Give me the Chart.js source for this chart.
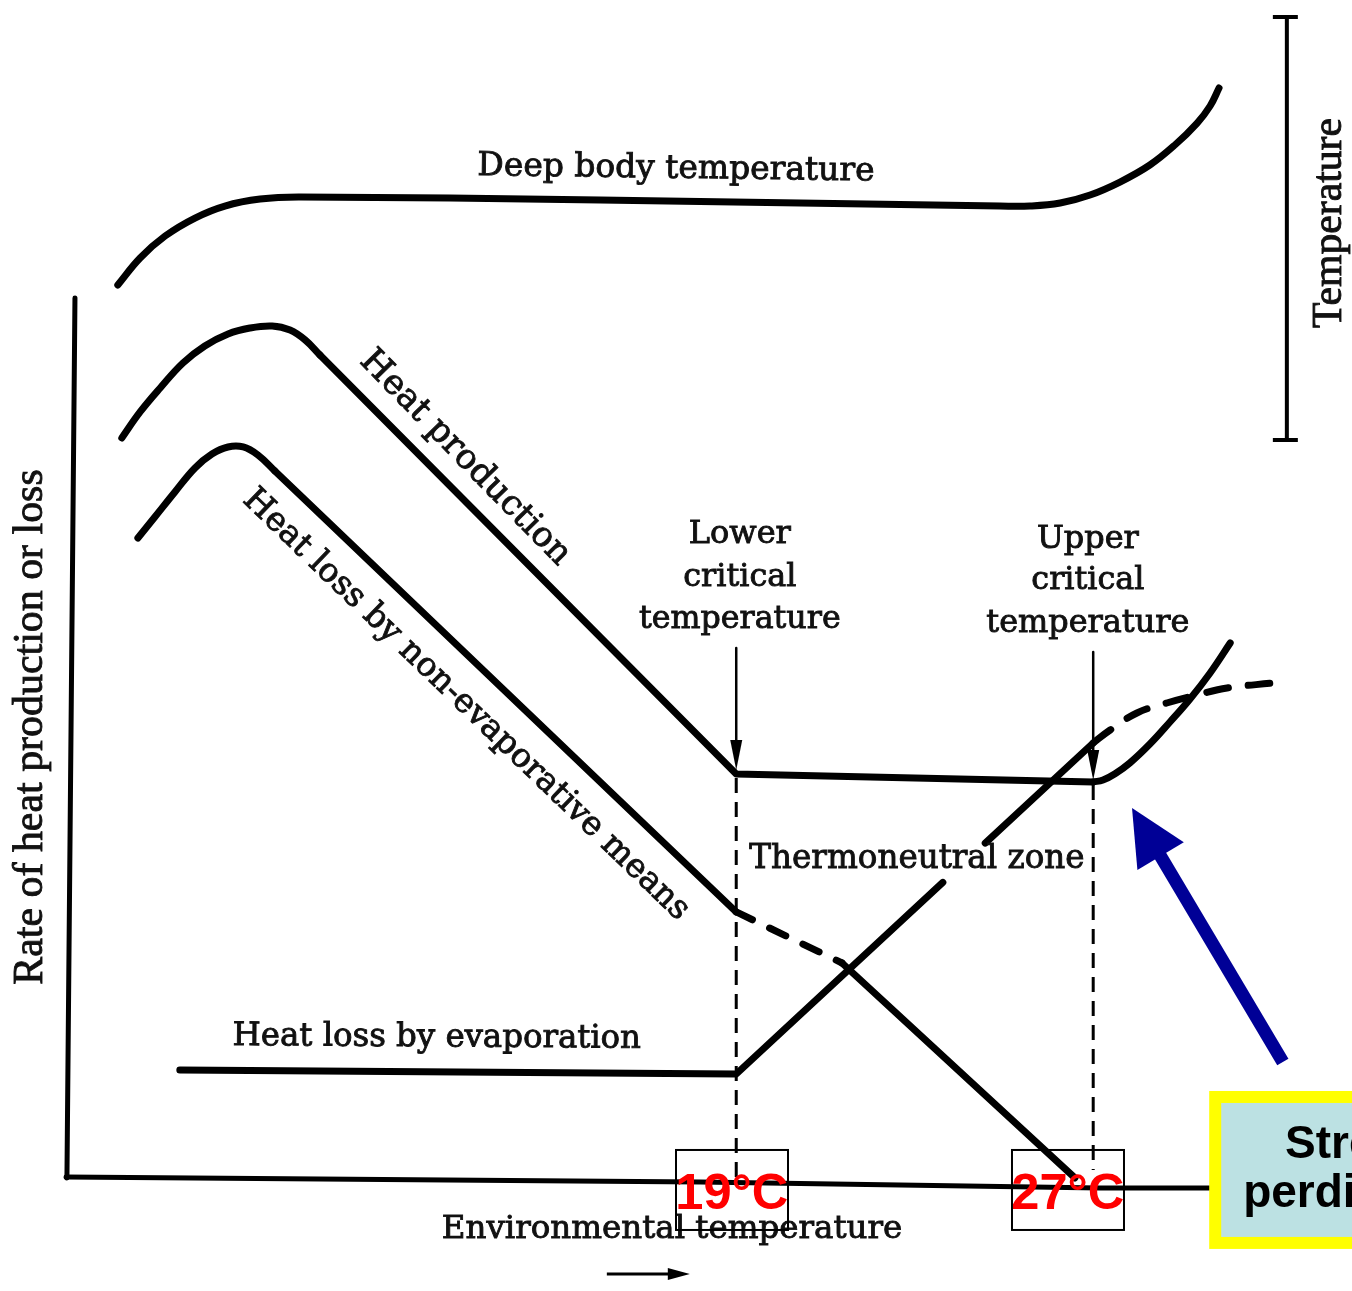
<!DOCTYPE html>
<html>
<head>
<meta charset="utf-8">
<script src="https://cdn.jsdelivr.net/npm/chart.js@4.4.1/dist/chart.umd.min.js"></script>
<style>
  html, body { margin: 0; padding: 0; background: #fff; }
  #wrap { width: 1352px; height: 1291px; position: relative; }
</style>
</head>
<body>
<div id="wrap"><canvas id="chart"></canvas></div>
<script>
// ===== DATA (x = environmental temperature °C, y = rate, arbitrary units) =====
// deep body temperature
const deepT = [5.14, 5.64, 6.20, 6.87, 7.54, 8.33, 9.22, 15.95, 20.43, 24.91, 25.58, 26.26, 26.93, 27.60, 28.27, 28.83, 29.33, 29.62, 29.82];
const deepR = [101.48, 104.54, 107.03, 109.07, 110.43, 111.22, 111.45, 111.11, 110.77, 110.43, 110.43, 110.77, 111.68, 113.15, 115.08, 117.35, 119.84, 121.77, 123.81];

// heat production: cold hump, straight part + flat, hot rise
const prodHumpT = [5.23, 5.64, 6.09, 6.60, 7.09, 7.61, 8.10, 8.60, 9.00, 9.34, 9.67];
const prodHumpR = [84.13, 87.08, 89.80, 92.63, 94.56, 95.92, 96.60, 96.83, 96.37, 95.24, 93.54];
const prodLineT = [9.67, 19.0, 27.0];
const prodLineR = [93.54, 46.03, 45.13];
const prodHotT = [27.0, 27.22, 27.49, 27.82, 28.27, 28.72, 29.17, 29.62, 30.07];
const prodHotR = [45.13, 45.35, 46.06, 47.28, 49.43, 51.93, 54.54, 57.49, 60.88];

// heat loss by non-evaporative means
const nonEvHumpT = [5.59, 5.97, 6.42, 6.87, 7.25, 7.61, 7.95, 8.28, 8.66];
const nonEvHumpR = [72.79, 75.17, 78.01, 80.73, 82.31, 83.11, 83.11, 82.20, 80.39];
const nonEvLineT = [8.66, 19.0];
const nonEvLineR = [80.39, 30.39];
const nonEvDashT = [19.0, 21.37];
const nonEvDashR = [30.39, 24.60];
const nonEvLowT = [21.37, 26.59];
const nonEvLowR = [24.60, 0.23];

// heat loss by evaporation (null = gap behind the label)
const evapT = [6.53, 19.0, 23.63, 24.1, 24.58, 27.0];
const evapR = [12.47, 12.02, 33.74, null, 38.19, 49.55];
const evapDashT = [27.0, 27.38, 27.98, 28.65, 29.33, 30.0, 31.03];
const evapDashR = [49.55, 51.02, 52.95, 54.08, 54.99, 55.78, 56.35];

// axes of the drawing
const axisLeftT = [4.18, 4.0];
const axisLeftR = [100, 0.23];
const axisBottomT = [3.98, 18.19, 27.15, 29.62];
const axisBottomR = [0.34, -0.23, -0.91, -0.91];

// critical temperatures
const lowerCrit = 19;
const upperCrit = 27;
const lowerDashR = [45.58, -0.5];
const upperDashR = [44.78, 1.13];
const lowerArrowR = [60.32, 46.49];
const upperArrowR = [59.86, 45.35];

// temperature scale bar (right)
const tempBarT = 31.34;
const tempBarR = [131.86, 83.90];

// ===== helpers =====
function pts(ts, rs) {
  return ts.map((t, i) => ({ x: t, y: rs[i] }));
}
function line(ts, rs, extra) {
  return Object.assign({
    data: pts(ts, rs),
    showLine: true,
    pointRadius: 0,
    borderColor: "#000",
    borderWidth: 7,
    borderCapStyle: "round",
    borderJoinStyle: "round",
    fill: false,
    spanGaps: false
  }, extra || {});
}
const smooth = { tension: 0.4 };

// ===== overlay: texts, arrows, boxes =====
const texts = [
  { s: "Deep body temperature", t: 17.65, r: 114.6, w: 397, rot: 0.8 },
  { s: "Heat production", t: 12.92, r: 81.86, w: 286, rot: 45.7 },
  { s: "Heat loss by non-evaporative means", t: 12.94, r: 53.86, w: 606, rot: 43.9 },
  { s: "Lower", t: 19.08, r: 73.13, w: 102 },
  { s: "critical", t: 19.08, r: 68.25, w: 113 },
  { s: "temperature", t: 19.08, r: 63.49, w: 202 },
  { s: "Upper", t: 26.88, r: 72.56, w: 102 },
  { s: "critical", t: 26.88, r: 67.91, w: 113 },
  { s: "temperature", t: 26.88, r: 63.04, w: 203 },
  { s: "Thermoneutral zone", t: 23.05, r: 36.28, w: 335 },
  { s: "Heat loss by evaporation", t: 12.29, r: 16.10, w: 409, rot: 0.4 },
  { s: "Environmental temperature", t: 17.56, r: -5.67, w: 460 },
  { s: "Rate of heat production or loss", t: 3.19, r: 51.36, w: 515, rot: -90, fam: "Liberation Serif" },
  { s: "Temperature", t: 32.31, r: 108.5, w: 210, rot: -90, fam: "Liberation Serif" }
];

function arrowHead(ctx, x0, y0, x1, y1, len, half) {
  const a = Math.atan2(y1 - y0, x1 - x0);
  const bx = x1 - len * Math.cos(a), by = y1 - len * Math.sin(a);
  ctx.beginPath();
  ctx.moveTo(x1, y1);
  ctx.lineTo(bx + half * Math.sin(a), by - half * Math.cos(a));
  ctx.lineTo(bx - half * Math.sin(a), by + half * Math.cos(a));
  ctx.closePath();
  ctx.fill();
}

const overlay = {
  id: "overlay",
  afterDatasetsDraw(chart) {
    const { ctx, scales: { x, y } } = chart;
    const px = v => x.getPixelForValue(v);
    const py = v => y.getPixelForValue(v);
    ctx.save();

    // critical temperature arrows
    ctx.fillStyle = "#000";
    [[lowerCrit, lowerArrowR], [upperCrit, upperArrowR]].forEach(([t, rr]) => {
      arrowHead(ctx, px(t), py(rr[0]), px(t), py(rr[1]), 30, 6);
    });

    // temperature bar caps
    ctx.strokeStyle = "#000";
    ctx.lineWidth = 4;
    tempBarR.forEach(r => {
      ctx.beginPath();
      ctx.moveTo(px(tempBarT) - 14, py(r));
      ctx.lineTo(px(tempBarT) + 11, py(r));
      ctx.stroke();
    });

    // small arrow under x label
    ctx.lineWidth = 3;
    ctx.beginPath();
    ctx.moveTo(px(16.10), py(-10.66));
    ctx.lineTo(px(17.6), py(-10.66));
    ctx.stroke();
    arrowHead(ctx, px(16.10), py(-10.66), px(17.96), py(-10.66), 22, 6);

    // texts (a thin stroke thickens them like the printed original)
    ctx.fillStyle = "#111";
    ctx.strokeStyle = "#111";
    ctx.lineWidth = 0.9;
    ctx.textAlign = "center";
    ctx.textBaseline = "middle";
    texts.forEach(o => {
      const fam = o.fam || "DejaVu Serif";
      ctx.font = "100px '" + fam + "'";
      const size = 100 * o.w / ctx.measureText(o.s).width;
      ctx.font = size.toFixed(1) + "px '" + fam + "'";
      ctx.save();
      ctx.translate(px(o.t), py(o.r));
      ctx.rotate((o.rot || 0) * Math.PI / 180);
      ctx.fillText(o.s, 0, 0);
      ctx.strokeText(o.s, 0, 0);
      ctx.restore();
    });

    // red temperature boxes
    [["19°C", 17.65, 20.16, 18.90], ["27°C", 25.18, 27.69, 26.43]].forEach(([s, l, rgt, c]) => {
      ctx.strokeStyle = "#000";
      ctx.lineWidth = 2;
      ctx.strokeRect(px(l), py(3.40), px(rgt) - px(l), py(-5.67) - py(3.40));
      ctx.fillStyle = "#ff0000";
      ctx.font = "bold 100px 'Liberation Sans'";
      const size = 100 * 113 / ctx.measureText(s).width;
      ctx.font = "bold " + size.toFixed(1) + "px 'Liberation Sans'";
      ctx.textBaseline = "alphabetic";
      ctx.fillText(s, px(c), py(-3.3));
    });

    // blue arrow
    const tx = px(31.25), ty = py(13.38), hx = px(27.87), hy = py(42.18);
    const a = Math.atan2(hy - ty, hx - tx);
    ctx.strokeStyle = "#000096";
    ctx.fillStyle = "#000096";
    ctx.lineWidth = 13;
    ctx.beginPath();
    ctx.moveTo(tx, ty);
    ctx.lineTo(hx - 50 * Math.cos(a), hy - 50 * Math.sin(a));
    ctx.stroke();
    arrowHead(ctx, tx, ty, hx, hy, 56, 27);

    // yellow framed box
    const bl = px(29.60), bt = py(10.09), bb = py(-7.82);
    ctx.fillStyle = "#ffff00";
    ctx.fillRect(bl, bt, chart.width - bl + 10, bb - bt);
    ctx.fillStyle = "#bce1e3";
    ctx.fillRect(bl + 12, bt + 12, chart.width - bl, bb - bt - 24);
    ctx.fillStyle = "#000";
    ctx.textAlign = "left";
    ctx.textBaseline = "alphabetic";
    ctx.font = "bold 46px 'Liberation Sans'";
    ctx.fillText("Stress", px(31.30), py(2.49));
    ctx.fillText("perdita", px(30.36), py(-3.06));

    ctx.restore();
  }
};

// ===== CHART =====
new Chart(document.getElementById("chart"), {
  type: "scatter",
  data: {
    datasets: [
      line(axisLeftT, axisLeftR, { borderWidth: 5 }),
      line(axisBottomT, axisBottomR, { borderWidth: 5 }),
      line(deepT, deepR, smooth),
      line(prodHumpT, prodHumpR, smooth),
      line(prodLineT, prodLineR),
      line(prodHotT, prodHotR, smooth),
      line(nonEvHumpT, nonEvHumpR, smooth),
      line(nonEvLineT, nonEvLineR),
      line(nonEvDashT, nonEvDashR, { borderDash: [18, 19] }),
      line(nonEvLowT, nonEvLowR),
      line(evapT, evapR),
      line(evapDashT, evapDashR, Object.assign({ borderDash: [22, 20] }, smooth)),
      line([lowerCrit, lowerCrit], lowerDashR, { borderWidth: 3, borderCapStyle: "butt", borderDash: [15, 9] }),
      line([upperCrit, upperCrit], upperDashR, { borderWidth: 3, borderCapStyle: "butt", borderDash: [15, 9] }),
      line([lowerCrit, lowerCrit], [lowerArrowR[0], lowerArrowR[1] + 2], { borderWidth: 2.5, borderCapStyle: "butt" }),
      line([upperCrit, upperCrit], [upperArrowR[0], upperArrowR[1] + 2], { borderWidth: 2.5, borderCapStyle: "butt" }),
      line([tempBarT, tempBarT], tempBarR, { borderWidth: 4, borderCapStyle: "butt" })
    ]
  },
  options: {
    responsive: true,
    maintainAspectRatio: false,
    animation: false,
    layout: { padding: 0 },
    plugins: {
      legend: { display: false },
      tooltip: { enabled: false }
    },
    scales: {
      x: { type: "linear", min: 2.5, max: 32.8, display: false },
      y: { type: "linear", min: -12.59, max: 133.79, display: false }
    }
  },
  plugins: [overlay]
});
</script>
</body>
</html>
